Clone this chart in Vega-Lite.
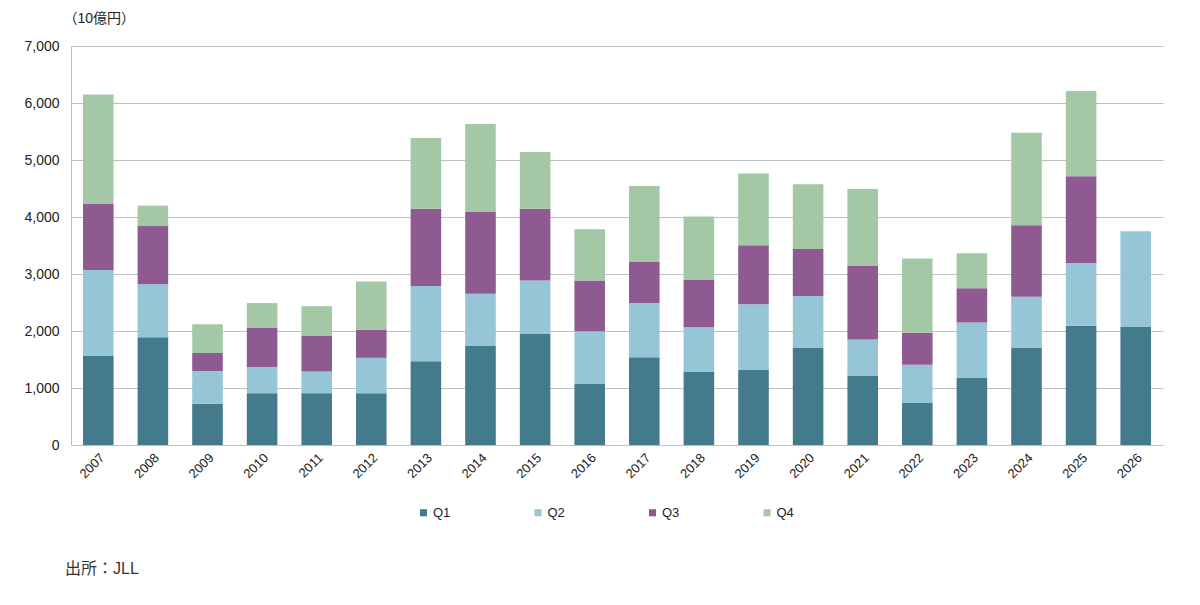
{
  "$schema": "https://vega.github.io/schema/vega-lite/v6.json",
  "autosize": "none",
  "width": 1092,
  "height": 399,
  "padding": {"left": 71, "top": 46, "right": 37, "bottom": 160},
  "background": "white",
  "data": {
    "values": [
      {"year": "2007", "q": "Q1", "v": 1570}, {"year": "2007", "q": "Q2", "v": 1500}, {"year": "2007", "q": "Q3", "v": 1160}, {"year": "2007", "q": "Q4", "v": 1920},
      {"year": "2008", "q": "Q1", "v": 1890}, {"year": "2008", "q": "Q2", "v": 930}, {"year": "2008", "q": "Q3", "v": 1020}, {"year": "2008", "q": "Q4", "v": 360},
      {"year": "2009", "q": "Q1", "v": 725}, {"year": "2009", "q": "Q2", "v": 575}, {"year": "2009", "q": "Q3", "v": 315}, {"year": "2009", "q": "Q4", "v": 505},
      {"year": "2010", "q": "Q1", "v": 910}, {"year": "2010", "q": "Q2", "v": 460}, {"year": "2010", "q": "Q3", "v": 690}, {"year": "2010", "q": "Q4", "v": 430},
      {"year": "2011", "q": "Q1", "v": 910}, {"year": "2011", "q": "Q2", "v": 380}, {"year": "2011", "q": "Q3", "v": 630}, {"year": "2011", "q": "Q4", "v": 515},
      {"year": "2012", "q": "Q1", "v": 910}, {"year": "2012", "q": "Q2", "v": 620}, {"year": "2012", "q": "Q3", "v": 495}, {"year": "2012", "q": "Q4", "v": 845},
      {"year": "2013", "q": "Q1", "v": 1470}, {"year": "2013", "q": "Q2", "v": 1320}, {"year": "2013", "q": "Q3", "v": 1355}, {"year": "2013", "q": "Q4", "v": 1240},
      {"year": "2014", "q": "Q1", "v": 1745}, {"year": "2014", "q": "Q2", "v": 910}, {"year": "2014", "q": "Q3", "v": 1440}, {"year": "2014", "q": "Q4", "v": 1535},
      {"year": "2015", "q": "Q1", "v": 1955}, {"year": "2015", "q": "Q2", "v": 930}, {"year": "2015", "q": "Q3", "v": 1260}, {"year": "2015", "q": "Q4", "v": 995},
      {"year": "2016", "q": "Q1", "v": 1070}, {"year": "2016", "q": "Q2", "v": 925}, {"year": "2016", "q": "Q3", "v": 890}, {"year": "2016", "q": "Q4", "v": 900},
      {"year": "2017", "q": "Q1", "v": 1540}, {"year": "2017", "q": "Q2", "v": 950}, {"year": "2017", "q": "Q3", "v": 720}, {"year": "2017", "q": "Q4", "v": 1335},
      {"year": "2018", "q": "Q1", "v": 1290}, {"year": "2018", "q": "Q2", "v": 775}, {"year": "2018", "q": "Q3", "v": 840}, {"year": "2018", "q": "Q4", "v": 1105},
      {"year": "2019", "q": "Q1", "v": 1315}, {"year": "2019", "q": "Q2", "v": 1155}, {"year": "2019", "q": "Q3", "v": 1035}, {"year": "2019", "q": "Q4", "v": 1260},
      {"year": "2020", "q": "Q1", "v": 1700}, {"year": "2020", "q": "Q2", "v": 915}, {"year": "2020", "q": "Q3", "v": 825}, {"year": "2020", "q": "Q4", "v": 1135},
      {"year": "2021", "q": "Q1", "v": 1220}, {"year": "2021", "q": "Q2", "v": 630}, {"year": "2021", "q": "Q3", "v": 1290}, {"year": "2021", "q": "Q4", "v": 1350},
      {"year": "2022", "q": "Q1", "v": 735}, {"year": "2022", "q": "Q2", "v": 675}, {"year": "2022", "q": "Q3", "v": 560}, {"year": "2022", "q": "Q4", "v": 1300},
      {"year": "2023", "q": "Q1", "v": 1175}, {"year": "2023", "q": "Q2", "v": 975}, {"year": "2023", "q": "Q3", "v": 600}, {"year": "2023", "q": "Q4", "v": 615},
      {"year": "2024", "q": "Q1", "v": 1700}, {"year": "2024", "q": "Q2", "v": 900}, {"year": "2024", "q": "Q3", "v": 1255}, {"year": "2024", "q": "Q4", "v": 1625},
      {"year": "2025", "q": "Q1", "v": 2090}, {"year": "2025", "q": "Q2", "v": 1105}, {"year": "2025", "q": "Q3", "v": 1520}, {"year": "2025", "q": "Q4", "v": 1495},
      {"year": "2026", "q": "Q1", "v": 2070}, {"year": "2026", "q": "Q2", "v": 1680}
    ]
  },
  "title": {
    "text": "出所：JLL",
    "orient": "bottom",
    "anchor": "start",
    "frame": "group",
    "offset": 41,
    "dx": -6,
    "fontSize": 16,
    "fontWeight": "normal",
    "font": "Liberation Sans, Noto Sans CJK JP",
    "color": "#333333"
  },
  "mark": {"type": "bar"},
  "encoding": {
    "x": {
      "field": "year",
      "type": "nominal",
      "title": null,
      "scale": {"paddingInner": 0.44, "paddingOuter": 0.22},
      "axis": {
        "labelAngle": -45,
        "labelFontSize": 13,
        "labelPadding": 6,
        "ticks": false,
        "domainColor": "#bfbfbf",
        "labelColor": "#222222"
      }
    },
    "y": {
      "field": "v",
      "type": "quantitative",
      "stack": "zero",
      "scale": {"domain": [0, 7000], "nice": false},
      "axis": {
        "values": [0, 1000, 2000, 3000, 4000, 5000, 6000, 7000],
        "format": ",d",
        "title": "（10億円）",
        "titleAngle": 0,
        "titleAlign": "left",
        "titleBaseline": "middle",
        "titleX": -8,
        "titleY": -28,
        "titleFontSize": 14,
        "titleFontWeight": "normal",
        "titleColor": "#222222",
        "titleFont": "Liberation Sans, Noto Sans CJK JP",
        "labelFontSize": 14,
        "labelPadding": 12,
        "labelColor": "#222222",
        "ticks": false,
        "domainColor": "#bfbfbf",
        "gridColor": "#bfbfbf"
      }
    },
    "color": {
      "field": "q",
      "type": "nominal",
      "scale": {
        "domain": ["Q1", "Q2", "Q3", "Q4"],
        "range": ["#437a8c", "#96c5d5", "#8f5991", "#a4c7a5"]
      },
      "legend": {
        "title": null,
        "orient": "none",
        "direction": "horizontal",
        "legendX": 346,
        "legendY": 460,
        "symbolType": "square",
        "symbolSize": 50,
        "symbolStrokeWidth": 0,
        "labelFontSize": 13,
        "labelColor": "#222222",
        "labelOffset": 3,
        "columnPadding": 80.5
      }
    },
    "order": {"field": "q", "sort": "ascending"}
  },
  "config": {
    "font": "Liberation Sans",
    "view": {"stroke": null},
    "axis": {"gridWidth": 1}
  }
}
